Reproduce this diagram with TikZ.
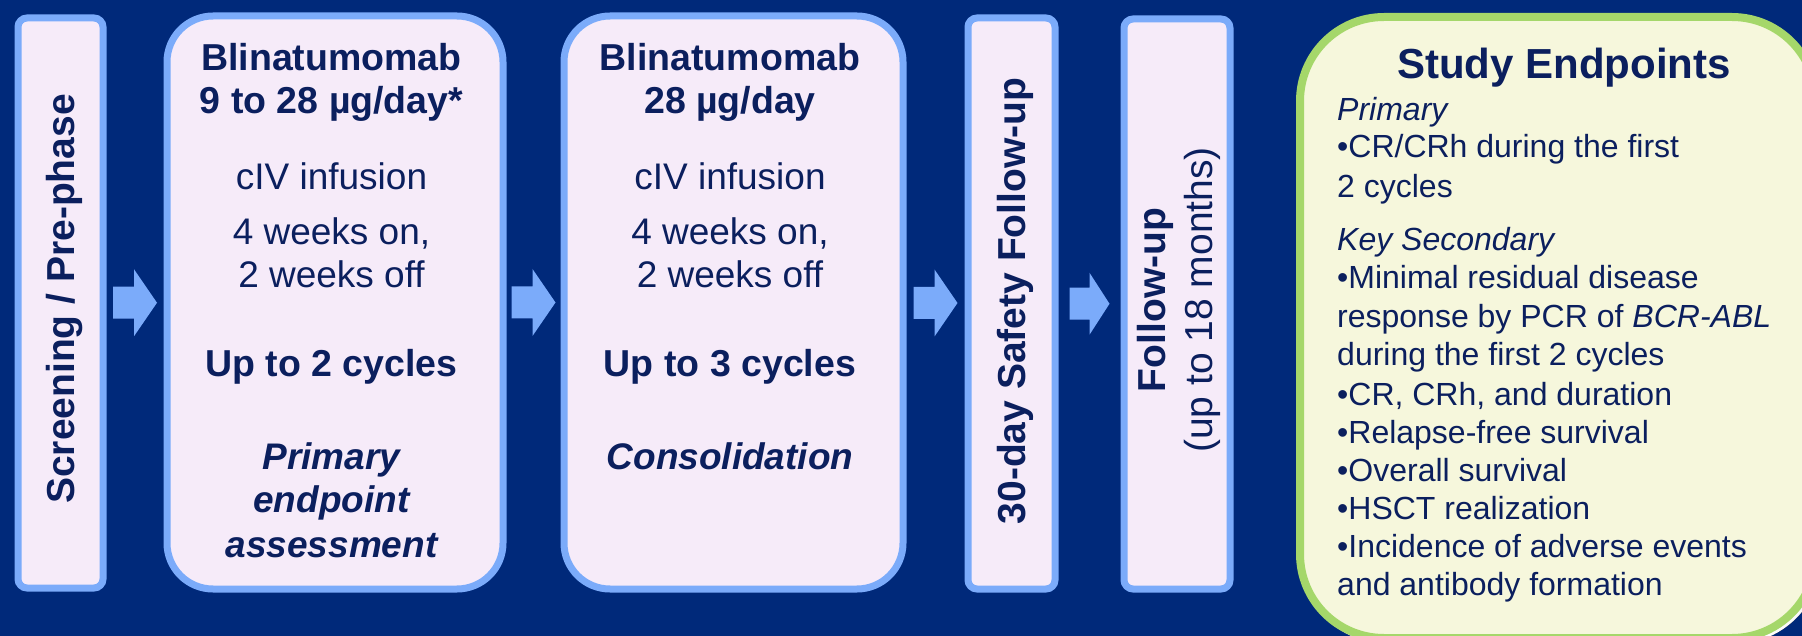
\documentclass[tikz,border=0pt]{standalone}
\usepackage{fontspec}
\setmainfont{Liberation Sans}
\usetikzlibrary{calc}
\definecolor{bg}{HTML}{00297A}
\definecolor{lblue}{HTML}{7BABFA}
\definecolor{lav}{HTML}{F6EBF9}
\definecolor{txt}{HTML}{0B1F5E}
\definecolor{lgreen}{HTML}{A5D76A}
\definecolor{cream}{HTML}{F6F7DC}
\definecolor{shade}{HTML}{001E5C}
\tikzset{
  stagebox/.style={draw=lblue, line width=7pt, fill=lav, inner sep=0pt, anchor=north west},
  endbox/.style={draw=lgreen, line width=8pt, fill=cream, inner sep=0pt, anchor=north west, rounded corners=84pt},
  lbl/.style={text=txt, inner sep=0pt, anchor=base},
  lleft/.style={text=txt, inner sep=0pt, anchor=base west, font=\fontsize{32pt}{38pt}\selectfont},
  fb/.style={font=\fontsize{37.5pt}{44pt}\selectfont\bfseries},
  fr/.style={font=\fontsize{37pt}{44pt}\selectfont},
  fbi/.style={font=\fontsize{37pt}{44pt}\selectfont\bfseries\itshape},
  rb/.style={font=\fontsize{39pt}{46pt}\selectfont\bfseries, rotate=90},
  rr/.style={font=\fontsize{39pt}{46pt}\selectfont, rotate=90},
  pics/blockarrow/.style={code={
    \fill[lblue] (-22,-16) -- (-1,-16) -- (-1,-33.5) -- (22,0) -- (-1,33.5) -- (-1,16) -- (-22,16) -- cycle;}},
  pics/smallarrow/.style={code={
    \fill[lblue] (-20,-16) -- (0,-16) -- (0,-31) -- (20,0) -- (0,31) -- (0,16) -- (-20,16) -- cycle;}},
}
\begin{document}
\begin{tikzpicture}[x=1pt,y=-1pt]
\fill[bg] (0,0) rectangle (1802,636);
\useasboundingbox (0,0) rectangle (1802,636);
\clip (0,0) rectangle (1802,636);

% boxes
\node[stagebox, rounded corners=9pt, minimum width=85pt, minimum height=570pt] (b1) at (14.5,14.5) {};
\node[stagebox, rounded corners=46pt, minimum width=336pt, minimum height=573pt] (b2) at (163.5,12.5) {};
\node[stagebox, rounded corners=46pt, minimum width=339pt, minimum height=573pt] (b3) at (560.5,12.5) {};
\node[stagebox, rounded corners=9pt, minimum width=87pt, minimum height=571pt] (b4) at (964.5,14.5) {};
\node[stagebox, rounded corners=9pt, minimum width=106pt, minimum height=570pt] (b5) at (1120.5,15.5) {};
\fill[shade, rounded corners=88pt] (1300,17) rectangle (1822,644);
\node[endbox, minimum width=516pt, minimum height=621pt] (b6) at (1296,13) {};

% arrows between boxes
\pic at ($(b1.east)!0.5!(b2.west)$) {blockarrow};
\pic at ($(b2.east)!0.5!(b3.west)$) {blockarrow};
\pic at ($(b3.east)!0.5!(b4.west)$) {blockarrow};
\pic at ($(b4.east)!0.5!(b5.west)$) {smallarrow};

% box 1
\node[lbl, rb] (t1) at (74,299) {Screening / Pre-phase};

% box 2
\node[lbl, fb] (t2a) at (331.5,71) {Blinatumomab};
\node[lbl, fb] (t2b) at (331.5,114) {9 to 28 µg/day*};
\node[lbl, fr] (t2c) at (331.5,190) {cIV infusion};
\node[lbl, fr] (t2d) at (331.5,245) {4 weeks on,};
\node[lbl, fr] (t2e) at (331.5,288) {2 weeks off};
\node[lbl, fb] (t2f) at (331.5,377) {Up to 2 cycles};
\node[lbl, fbi] (t2g) at (331.5,469) {Primary};
\node[lbl, fbi] (t2h) at (331.5,512) {endpoint};
\node[lbl, fbi] (t2i) at (331.5,557) {assessment};

% box 3
\node[lbl, fb] (t3a) at (730,71) {Blinatumomab};
\node[lbl, fb] (t3b) at (730,114) {28 µg/day};
\node[lbl, fr] (t3c) at (730,190) {cIV infusion};
\node[lbl, fr] (t3d) at (730,245) {4 weeks on,};
\node[lbl, fr] (t3e) at (730,288) {2 weeks off};
\node[lbl, fb] (t3f) at (730,377) {Up to 3 cycles};
\node[lbl, fbi] (t3g) at (730,469) {Consolidation};

% box 4
\node[lbl, rb] (t4) at (1025,301) {30-day Safety Follow-up};

% box 5
\node[lbl, rb] (t5a) at (1165,300) {Follow-up};
\node[lbl, rr] (t5b) at (1212,300) {(up to 18 months)};

% box 6
\node[lbl, font=\fontsize{42pt}{48pt}\selectfont\bfseries] (t6) at (1564,79) {Study Endpoints};
\node[lleft] (e1) at (1337,121) {\itshape Primary};
\node[lleft] (e2) at (1337,158) {•CR/CRh during the first};
\node[lleft] (e3) at (1337,198) {2 cycles};
\node[lleft] (e4) at (1337,251) {\itshape Key Secondary};
\node[lleft] (e5) at (1337,289) {•Minimal residual disease};
\node[lleft] (e6) at (1337,328) {response by PCR of \textit{BCR-ABL}};
\node[lleft] (e7) at (1337,365) {during the first 2 cycles};
\node[lleft] (e8) at (1337,405) {•CR, CRh, and duration};
\node[lleft] (e9) at (1337,443) {•Relapse-free survival};
\node[lleft] (e10) at (1337,481) {•Overall survival};
\node[lleft] (e11) at (1337,519) {•HSCT realization};
\node[lleft] (e12) at (1337,557) {•Incidence of adverse events};
\node[lleft] (e13) at (1337,595) {and antibody formation};
\end{tikzpicture}
\end{document}
